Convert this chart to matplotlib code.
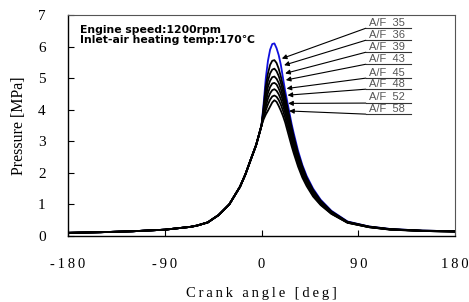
import matplotlib
matplotlib.use("Agg")
import matplotlib.pyplot as plt

# ---- data ----
comp_angle = [-180, -150, -120, -90, -66, -60, -50, -44, -40, -30, -20, -15, -10, -5, -2]
comp_p = [0.10, 0.12, 0.15, 0.20, 0.29, 0.33, 0.43, 0.57, 0.66, 1.00, 1.56, 1.95, 2.42, 2.88, 3.25]

post_angle = [0, 2, 4, 6, 8, 10, 12, 14, 16, 18, 20, 22, 24, 26, 28, 30, 34, 38, 42, 48, 55, 65, 80, 100, 120, 150, 180]

af_labels = ["A/F  35", "A/F  36", "A/F  39", "A/F  43", "A/F  45", "A/F  48", "A/F  52", "A/F  58"]

p_af35 = [3.5, 4.2, 5.0, 5.55, 5.9, 6.08, 6.1, 5.95, 5.73, 5.42, 5.0, 4.6, 4.25, 3.9, 3.55, 3.25, 2.7, 2.25, 1.9, 1.5, 1.15, 0.8, 0.46, 0.3, 0.22, 0.17, 0.15]
p_af36 = [3.5, 4.1, 4.75, 5.15, 5.42, 5.55, 5.57, 5.48, 5.3, 5.05, 4.75, 4.42, 4.1, 3.78, 3.45, 3.15, 2.62, 2.2, 1.85, 1.46, 1.12, 0.78, 0.45, 0.3, 0.22, 0.17, 0.15]
p_af39 = [3.5, 4.0, 4.55, 4.92, 5.15, 5.27, 5.3, 5.22, 5.07, 4.85, 4.58, 4.28, 3.97, 3.66, 3.36, 3.07, 2.56, 2.15, 1.81, 1.43, 1.1, 0.77, 0.44, 0.29, 0.21, 0.17, 0.15]
p_af43 = [3.5, 3.95, 4.4, 4.72, 4.92, 5.03, 5.05, 4.98, 4.85, 4.66, 4.42, 4.14, 3.85, 3.56, 3.27, 2.98, 2.49, 2.1, 1.77, 1.4, 1.08, 0.75, 0.44, 0.29, 0.21, 0.16, 0.15]
p_af45 = [3.5, 3.9, 4.25, 4.53, 4.72, 4.83, 4.85, 4.8, 4.67, 4.5, 4.28, 4.02, 3.75, 3.46, 3.18, 2.9, 2.42, 2.04, 1.72, 1.36, 1.05, 0.74, 0.43, 0.29, 0.21, 0.16, 0.14]
p_af48 = [3.5, 3.82, 4.1, 4.35, 4.52, 4.62, 4.65, 4.6, 4.49, 4.33, 4.13, 3.9, 3.64, 3.37, 3.1, 2.83, 2.36, 1.99, 1.68, 1.33, 1.03, 0.72, 0.43, 0.28, 0.21, 0.16, 0.14]
p_af52 = [3.5, 3.76, 3.98, 4.17, 4.32, 4.42, 4.45, 4.41, 4.31, 4.16, 3.97, 3.75, 3.5, 3.25, 2.98, 2.73, 2.28, 1.92, 1.63, 1.29, 1.0, 0.71, 0.42, 0.28, 0.2, 0.16, 0.14]
p_af58 = [3.5, 3.7, 3.85, 3.97, 4.1, 4.23, 4.3, 4.25, 4.12, 3.97, 3.8, 3.6, 3.35, 3.1, 2.85, 2.62, 2.2, 1.85, 1.58, 1.25, 0.98, 0.7, 0.42, 0.28, 0.2, 0.16, 0.14]
post_series = [p_af35, p_af36, p_af39, p_af43, p_af45, p_af48, p_af52, p_af58]

# annotation anchors (data coords)
label_y = [6.58, 6.20, 5.82, 5.44, 5.00, 4.65, 4.21, 3.86]
tip_x = [18.9, 21.0, 22.0, 22.6, 23.3, 24.2, 24.8, 25.7]
tip_y = [5.62, 5.41, 5.15, 4.94, 4.67, 4.46, 4.20, 3.96]
line_x0, line_x1 = 97, 139

xticks = [-180, -90, 0, 90, 180]
yticks = [0, 1, 2, 3, 4, 5, 6, 7]

# ---- figure ----
fig = plt.figure(figsize=(4.69, 3.02), dpi=100)
ax = fig.add_axes([68/469, 1 - 236/302, (455-68)/469, (236-15)/302])

for i, post in enumerate(post_series):
    xs = comp_angle + post_angle
    ys = comp_p + post
    color = "#1010dd" if i == 0 else "black"
    ax.plot(xs, ys, color=color, lw=1.3, zorder=2 if i == 0 else 3)

ax.set_xlim(-180, 180)
ax.set_ylim(0, 7)

serif = "Liberation Serif"
def spaced(s, sep="\u200a"):
    return sep.join(list(s))

ax.set_xticks(xticks)
ax.set_xticklabels([spaced(str(t), "\u2009") for t in xticks], family=serif, fontsize=10.5)
ax.set_yticks(yticks)
ax.set_yticklabels([str(t) for t in yticks], family=serif, fontsize=11)
ax.tick_params(axis="both", direction="in", length=4, width=0.8, color="black")
ax.tick_params(axis="x", pad=16)
ax.tick_params(axis="y", pad=16)
ax.tick_params(top=False, right=False)

ax.spines["left"].set_linewidth(1.0)
ax.spines["bottom"].set_linewidth(1.0)
ax.spines["top"].set_color("#555555")
ax.spines["right"].set_color("#555555")
ax.spines["top"].set_linewidth(0.8)
ax.spines["right"].set_linewidth(0.8)

ax.set_xlabel(spaced("Crank angle [deg]", "\u2009"), family=serif, fontsize=10.5, labelpad=11)
ax.set_ylabel("Pressure [MPa]", family=serif, fontsize=11.5, labelpad=8)

ax.text(0.031, 0.955, "Engine speed:1200rpm\nInlet-air heating temp:170\u2103",
        transform=ax.transAxes, family=["DejaVu Sans", "Noto Sans CJK SC"], fontweight="bold",
        fontsize=7.8, va="top", ha="left", linespacing=0.98)

for lab, ly, tx, ty in zip(af_labels, label_y, tip_x, tip_y):
    ax.plot([line_x0, line_x1], [ly, ly], color="#333333", lw=0.8)
    ax.annotate("", xy=(tx, ty), xytext=(line_x0, ly),
                arrowprops=dict(arrowstyle="-|>", color="black", lw=0.8,
                                mutation_scale=7, shrinkA=0, shrinkB=0))
    ax.text(line_x0 + 3, ly + 0.02, lab, family="Liberation Sans", fontsize=8,
            color="#555555", va="bottom", ha="left")

fig.savefig("out.png", dpi=100)
